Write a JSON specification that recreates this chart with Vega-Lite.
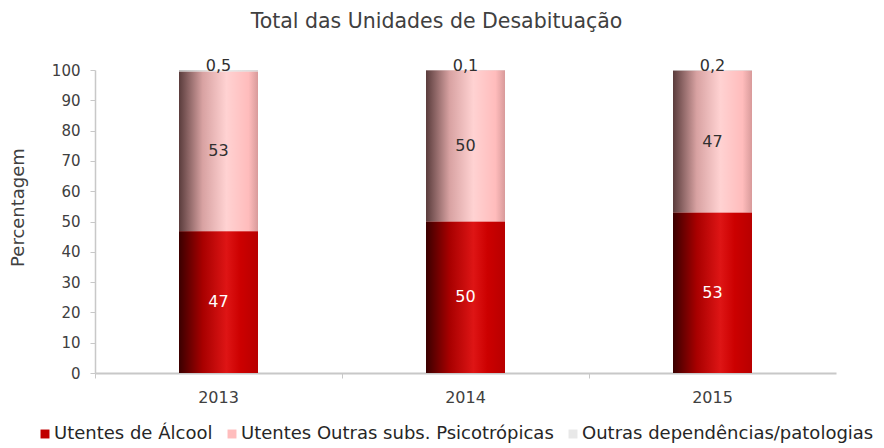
{
  "$schema": "https://vega.github.io/schema/vega-lite/v6.json",
  "width": 741,
  "height": 303,
  "autosize": {"type": "none"},
  "padding": {"left": 95, "top": 70, "right": 48, "bottom": 75},
  "config": {
    "view": {"stroke": null},
    "font": "DejaVu Sans",
    "axisY": {
      "titleFontSize": 18,
      "titleFontWeight": "normal",
      "titleColor": "#404040",
      "titlePadding": 24,
      "titleY": 137,
      "tickCount": 12,
      "labelOverlap": false,
      "grid": false,
      "labelFontSize": 15,
      "labelColor": "#404040",
      "labelPadding": 10,
      "domainColor": "#c8c8c8",
      "domainWidth": 1.5,
      "tickColor": "#c8c8c8",
      "tickSize": 5
    },
    "locale": {"number": {"decimal": ",", "thousands": ".", "grouping": [3], "currency": ["", " €"]}}
  },
  "title": {
    "text": "Total das Unidades de Desabituação",
    "fontSize": 20.5,
    "fontWeight": "normal",
    "color": "#404040",
    "font": "DejaVu Sans",
    "frame": "group",
    "anchor": "middle",
    "dx": -29,
    "offset": 26
  },
  "data": {
    "values": [
      {"year": "2013", "series": "Utentes de Álcool", "order": 1, "value": 46.8},
      {"year": "2013", "series": "Utentes Outras subs. Psicotrópicas", "order": 2, "value": 52.7},
      {"year": "2013", "series": "Outras dependências/patologias", "order": 3, "value": 0.5},
      {"year": "2014", "series": "Utentes de Álcool", "order": 1, "value": 50.0},
      {"year": "2014", "series": "Utentes Outras subs. Psicotrópicas", "order": 2, "value": 49.9},
      {"year": "2014", "series": "Outras dependências/patologias", "order": 3, "value": 0.1},
      {"year": "2015", "series": "Utentes de Álcool", "order": 1, "value": 53.0},
      {"year": "2015", "series": "Utentes Outras subs. Psicotrópicas", "order": 2, "value": 46.8},
      {"year": "2015", "series": "Outras dependências/patologias", "order": 3, "value": 0.2}
    ]
  },
  "transform": [
    {"stack": "value", "groupby": ["year"], "sort": [{"field": "order", "order": "ascending"}], "as": ["v0", "v1"]}
  ],
  "encoding": {
    "x": {
      "field": "year",
      "type": "ordinal",
      "scale": {"paddingInner": 0, "paddingOuter": 0},
      "axis": {
        "title": null,
        "labelAngle": 0,
        "labelFontSize": 16,
        "labelColor": "#404040",
        "labelPadding": 11,
        "domainColor": "#c8c8c8",
        "domainWidth": 2,
        "tickColor": "#c8c8c8",
        "tickSize": 5,
        "bandPosition": 0
      }
    }
  },
  "layer": [
    {
      "mark": {"type": "bar", "width": 79},
      "encoding": {
        "y": {
          "field": "v0",
          "type": "quantitative",
          "title": "Percentagem",
          "scale": {"domain": [0, 100], "nice": false},
          "axis": {"values": [0, 10, 20, 30, 40, 50, 60, 70, 80, 90, 100], "tickCount": 12, "labelOverlap": false}
        },
        "y2": {"field": "v1"},
        "color": {
          "field": "series",
          "type": "nominal",
          "scale": {
            "domain": ["Utentes de Álcool", "Utentes Outras subs. Psicotrópicas", "Outras dependências/patologias"],
            "range": ["#C00000", "#FFBDBD", "#E8E8E8"]
          },
          "legend": {
            "title": null,
            "orient": "none",
            "direction": "horizontal",
            "legendX": -59,
            "legendY": 355,
            "labelFont": "DejaVu Sans",
            "labelFontSize": 18,
            "labelLimit": 400,
            "labelColor": "#262626",
            "labelOffset": 0,
            "columnPadding": 10,
            "symbolType": "square",
            "symbolSize": 80,
            "symbolStrokeWidth": 0
          }
        }
      }
    },
    {
      "transform": [{"filter": "datum.series === 'Utentes de Álcool'"}],
      "mark": {
        "type": "bar",
        "width": 79,
        "color": {
          "gradient": "linear",
          "x1": 0, "y1": 0, "x2": 1, "y2": 0,
          "stops": [
            {"offset": 0, "color": "#3a0000"},
            {"offset": 0.3, "color": "#a80000"},
            {"offset": 0.6, "color": "#de1515"},
            {"offset": 0.78, "color": "#cc0000"},
            {"offset": 1, "color": "#b80000"}
          ]
        }
      },
      "encoding": {
        "y": {"field": "v0", "type": "quantitative", "title": "Percentagem"},
        "y2": {"field": "v1"}
      }
    },
    {
      "transform": [{"filter": "datum.series === 'Utentes Outras subs. Psicotrópicas'"}],
      "mark": {
        "type": "bar",
        "width": 79,
        "color": {
          "gradient": "linear",
          "x1": 0, "y1": 0, "x2": 1, "y2": 0,
          "stops": [
            {"offset": 0, "color": "#5a3c3c"},
            {"offset": 0.3, "color": "#d8a2a2"},
            {"offset": 0.6, "color": "#ffd2d2"},
            {"offset": 0.88, "color": "#ffbcbc"},
            {"offset": 1, "color": "#d89a9a"}
          ]
        }
      },
      "encoding": {
        "y": {"field": "v0", "type": "quantitative", "title": "Percentagem"},
        "y2": {"field": "v1"}
      }
    },
    {
      "transform": [{"filter": "datum.series === 'Outras dependências/patologias'"}],
      "mark": {
        "type": "bar",
        "width": 79,
        "color": {
          "gradient": "linear",
          "x1": 0, "y1": 0, "x2": 1, "y2": 0,
          "stops": [
            {"offset": 0, "color": "#bdbdbd"},
            {"offset": 0.5, "color": "#eeeeee"},
            {"offset": 1, "color": "#d8d8d8"}
          ]
        }
      },
      "encoding": {
        "y": {"field": "v0", "type": "quantitative", "title": "Percentagem"},
        "y2": {"field": "v1"}
      }
    },
    {
      "transform": [{"filter": "datum.series === 'Outras dependências/patologias'"}],
      "mark": {"type": "text", "fontSize": 16, "color": "#303030", "baseline": "middle", "dy": -4},
      "encoding": {
        "y": {"field": "v1", "type": "quantitative", "title": "Percentagem"},
        "text": {"field": "value", "type": "quantitative", "format": ".1f"}
      }
    },
    {
      "mark": {"type": "text", "fontSize": 16, "baseline": "middle"},
      "encoding": {
        "y": {"field": "value", "type": "quantitative", "stack": "zero", "bandPosition": 0.5, "title": "Percentagem"},
        "order": {"field": "order", "type": "quantitative"},
        "text": {
          "condition": {"test": "datum.series === 'Outras dependências/patologias'", "value": ""},
          "field": "value",
          "type": "quantitative",
          "format": ".0f"
        },
        "color": {
          "condition": {"test": "datum.series === 'Utentes de Álcool'", "value": "#ffffff"},
          "value": "#303030"
        }
      }
    }
  ]
}
